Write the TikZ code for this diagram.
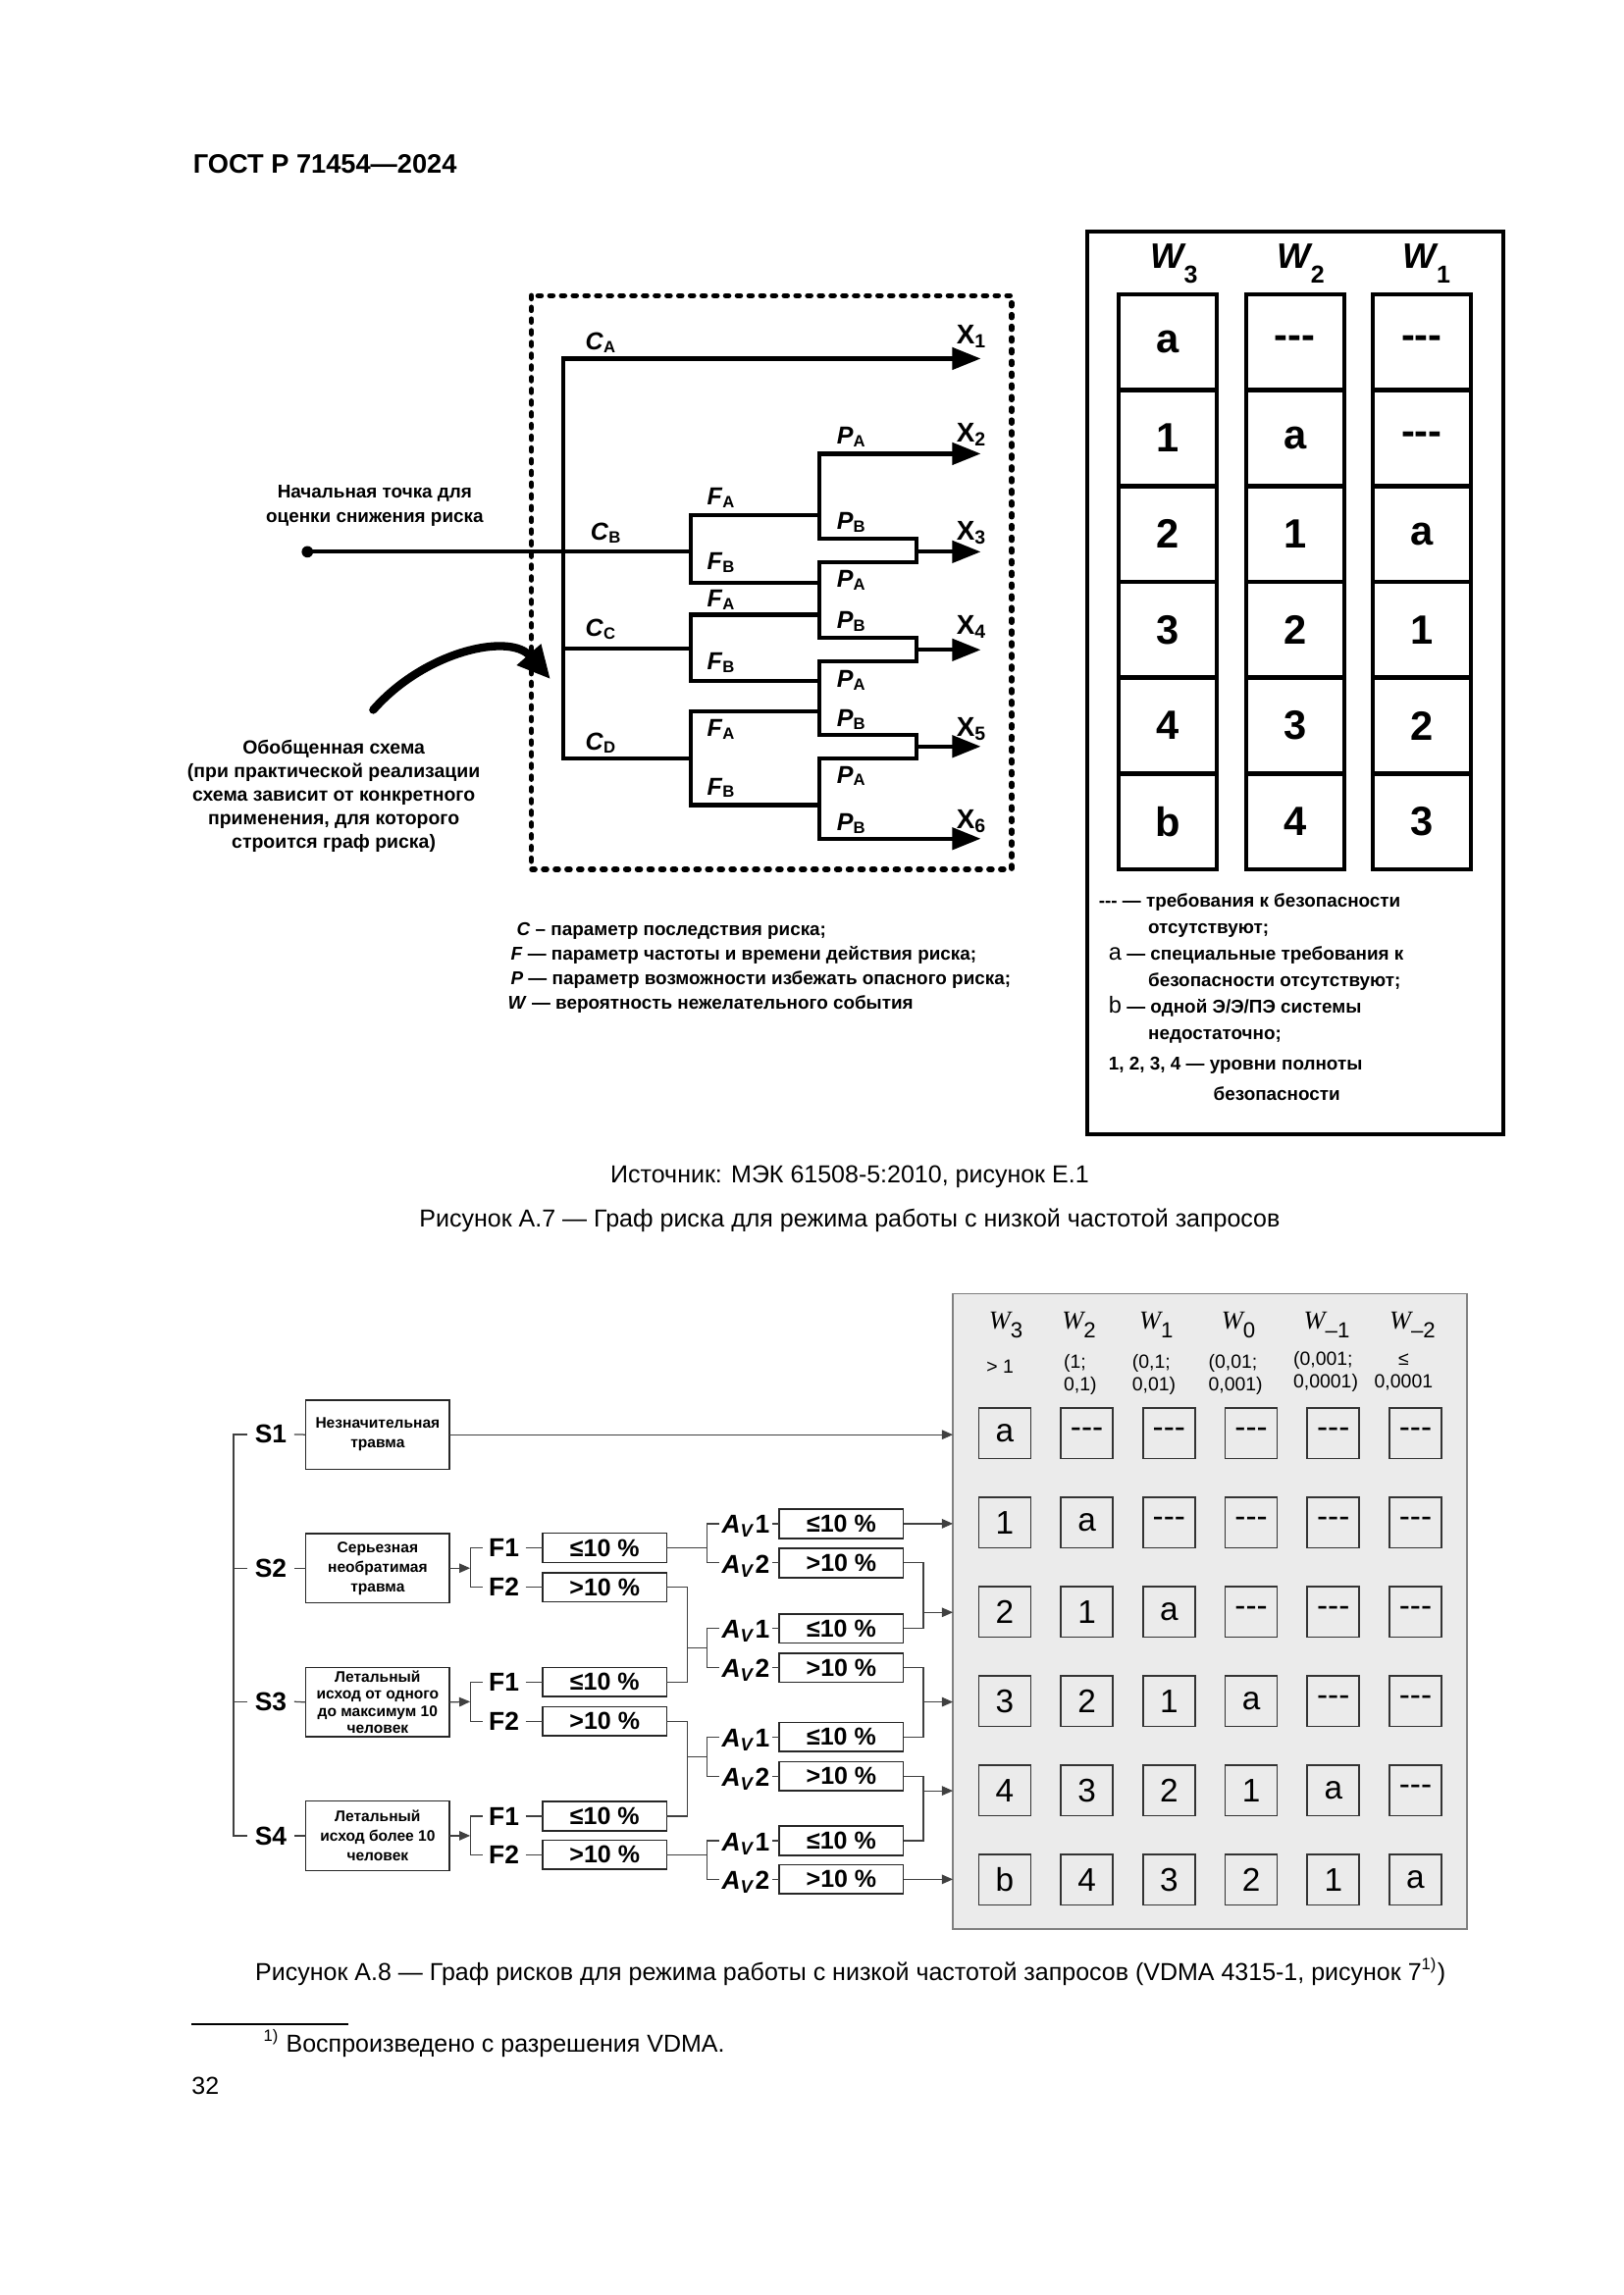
\documentclass[tikz,border=0pt]{standalone}
\usepackage{fontspec}
\setmainfont{Liberation Sans}
\newfontfamily\serifW{Liberation Serif}
\usetikzlibrary{arrows.meta}
\newcommand{\fsz}[2]{\fontsize{#1}{#2}\selectfont}
\newcommand{\dsh}{-{}-{}-}
\newcommand{\wsubA}[1]{\raisebox{-5.4pt}{\bfseries\fsz{9}{9}#1}}
\newcommand{\wsubB}[1]{\raisebox{-3.2pt}{\fsz{8}{8}#1}}
\begin{document}
\begin{tikzpicture}[x=0.537pt,y=-0.537pt,
  every node/.style={inner sep=0pt, outer sep=0pt},
  fone/.style={line width=1.5pt, line cap=rect, line join=miter},
  fonearr/.style={fone, -{Triangle[length=10.5pt,width=8pt]}},
  ftext/.style={font=\bfseries\fsz{6.8}{8.8}, align=center},
  lgd/.style={font=\bfseries\fsz{6.8}{6.8}, anchor=base west},
  lbl/.style={font=\bfseries\fsz{9}{9}, anchor=base west},
  xlbl/.style={font=\bfseries\fsz{10}{10}, anchor=base west},
  cone/.style={draw, line width=1.6pt, minimum width=36pt, minimum height=35.2pt, font=\bfseries\fsz{15}{15}},
  ctwo/.style={draw=black!80, line width=0.6pt, minimum width=19.1pt, minimum height=18.4pt, font=\fsz{12}{12}},
  ftwo/.style={line width=0.45pt, draw=black!75},
  ftwoarr/.style={ftwo, -{Triangle[length=4pt,width=3.4pt]}},
  sbox/.style={draw=black!85, line width=0.6pt, minimum width=52.8pt, minimum height=25.5pt, align=center, font=\bfseries\fsz{5.6}{7.2}},
  fbox/.style={draw=black!85, line width=0.6pt, minimum width=45.5pt, minimum height=10.7pt, font=\bfseries\fsz{9}{9}},
  slab/.style={font=\bfseries\fsz{9.5}{9.5}, inner xsep=2.8pt},
  flab/.style={font=\bfseries\fsz{9.5}{9.5}, inner xsep=2.4pt},
  alab/.style={font=\bfseries\fsz{9.5}{9.5}, inner xsep=0.9pt},
  rng/.style={font=\fsz{7}{7}, anchor=base west},
  captxt/.style={font=\fsz{9}{11}}]

\fill[white] (0,0) rectangle (1109,1568);
\useasboundingbox (0,0) rectangle (1109,1568);

% header
\node[anchor=base west, font=\bfseries\fsz{9.8}{12}] (hdr) at (132,118) {ГОСТ Р 71454—2024};

% ================= Figure A.7 =================
\coordinate (db1) at (363,202);
\coordinate (db2) at (691,594);
\draw[line width=2pt, dash pattern=on 1.1pt off 3.2pt, line cap=round] (db1) rectangle (db2);

\node[circle, fill, minimum size=4.2pt] (start) at (210,377) {};
\coordinate (cA) at (385,245);
\coordinate (cC) at (385,443);
\coordinate (cD) at (385,518);
\coordinate (x1) at (670,245);
\coordinate (fB) at (472,377);
\coordinate (fC) at (472,443);
\coordinate (fD) at (472,518);
\draw[fonearr] (cA) -- (x1);
\draw[fone] (cA) -- (cD) -- (fD);
\draw[fone] (cC) -- (fC);
\draw[fone] (start.center) -- (fB);

\coordinate (fBa) at (560,352); \coordinate (fBb) at (560,398);
\coordinate (fCa) at (560,420); \coordinate (fCb) at (560,465);
\coordinate (fDa) at (560,486); \coordinate (fDb) at (560,550);
\draw[fone] (fBa) -| (fB) |- (fBb);
\draw[fone] (fCa) -| (fC) |- (fCb);
\draw[fone] (fDa) -| (fD) |- (fDb);

\coordinate (pA1) at (560,310); \coordinate (pB1) at (560,368);
\coordinate (q1a) at (626,368); \coordinate (q1b) at (626,384);
\coordinate (pA2) at (560,384); \coordinate (pB2) at (560,436);
\coordinate (q2a) at (626,436); \coordinate (q2b) at (626,452);
\coordinate (pA3) at (560,452); \coordinate (pB3) at (560,502);
\coordinate (q3a) at (626,502); \coordinate (q3b) at (626,518);
\coordinate (pA4) at (560,518); \coordinate (pB4) at (560,573);
\draw[fone] (pA1) -- (pB1) -- (q1a) -- (q1b) -- (pA2) -- (pB2) -- (q2a) -- (q2b) -- (pA3) -- (pB3) -- (q3a) -- (q3b) -- (pA4) -- (pB4);
\coordinate (x2) at (670,310); \coordinate (x6) at (670,573);
\coordinate (m1) at (626,377); \coordinate (x3) at (670,377);
\coordinate (m2) at (626,444); \coordinate (x4) at (670,444);
\coordinate (m3) at (626,510); \coordinate (x5) at (670,510);
\draw[fonearr] (pA1) -- (x2);
\draw[fonearr] (pB4) -- (x6);
\draw[fonearr] (m1) -- (x3);
\draw[fonearr] (m2) -- (x4);
\draw[fonearr] (m3) -- (x5);

% labels C, F, P, X
\node[lbl] (lCA) at (400,239) {\textit{C}\textsubscript{A}};
\node[lbl] (lCB) at (403.5,369) {\textit{C}\textsubscript{B}};
\node[lbl] (lCC) at (400,435) {\textit{C}\textsubscript{C}};
\node[lbl] (lCD) at (400,512.5) {\textit{C}\textsubscript{D}};
\node[lbl] (lF1) at (483,345) {\textit{F}\textsubscript{A}};
\node[lbl] (lF2) at (483,389) {\textit{F}\textsubscript{B}};
\node[lbl] (lF3) at (483,414.7) {\textit{F}\textsubscript{A}};
\node[lbl] (lF4) at (483,457.6) {\textit{F}\textsubscript{B}};
\node[lbl] (lF5) at (483,503) {\textit{F}\textsubscript{A}};
\node[lbl] (lF6) at (483,543) {\textit{F}\textsubscript{B}};
\node[lbl] (lP1) at (571.8,303.4) {\textit{P}\textsubscript{A}};
\node[lbl] (lP2) at (571.8,361.6) {\textit{P}\textsubscript{B}};
\node[lbl] (lP3) at (571.8,401) {\textit{P}\textsubscript{A}};
\node[lbl] (lP4) at (571.8,429.4) {\textit{P}\textsubscript{B}};
\node[lbl] (lP5) at (571.8,469.7) {\textit{P}\textsubscript{A}};
\node[lbl] (lP6) at (571.8,496.5) {\textit{P}\textsubscript{B}};
\node[lbl] (lP7) at (571.8,535) {\textit{P}\textsubscript{A}};
\node[lbl] (lP8) at (571.8,567.5) {\textit{P}\textsubscript{B}};
\node[xlbl] (lX1) at (653.5,235) {X\textsubscript{1}};
\node[xlbl] (lX2) at (653.5,302) {X\textsubscript{2}};
\node[xlbl] (lX3) at (653.5,369) {X\textsubscript{3}};
\node[xlbl] (lX4) at (653.5,433.5) {X\textsubscript{4}};
\node[xlbl] (lX5) at (653.5,503) {X\textsubscript{5}};
\node[xlbl] (lX6) at (653.5,566) {X\textsubscript{6}};

% left texts
\node[ftext] (startlbl) at (256,345.5) {Начальная точка для\\оценки снижения риска};
\node[ftext, font=\bfseries\fsz{7}{8.7}] (genlbl) at (228,544) {Обобщенная схема\\(при практической реализации\\схема зависит от конкретного\\применения,  для которого\\строится граф риска)};
\coordinate (ctail) at (255,485);
\coordinate (chead) at (376,464);
\draw[line width=3pt, line cap=round, -{Triangle[length=12pt,width=11pt]}] (ctail) .. controls (290,445) and (348,432) .. (chead);

% legend left
\node[lgd] (lgc) at (353,639) {\textit{C} – параметр последствия риска;};
\node[lgd] (lgf) at (349,656) {\textit{F} — параметр частоты и времени действия риска;};
\node[lgd] (lgp) at (349,673) {\textit{P} — параметр возможности избежать опасного риска;};
\node[lgd] (lgw) at (347,689.5) {\textit{W} — вероятность нежелательного события};

% table right
\coordinate (tb1) at (743,158);
\coordinate (tb2) at (1027,775);
\draw[line width=1.4pt] (tb1) rectangle (tb2);
\node[anchor=base west] (w3) at (786,183.4) {{\bfseries\itshape\fsz{13}{13}W}\wsubA{3}};
\node[anchor=base west] (w2) at (872.6,183.4) {{\bfseries\itshape\fsz{13}{13}W}\wsubA{2}};
\node[anchor=base west] (w1) at (958.6,183.4) {{\bfseries\itshape\fsz{13}{13}W}\wsubA{1}};
\foreach \v [count=\i from 0] in {a,1,2,3,4,b}
  \node[cone] (ta\i) at (797.7,{233.8+65.5*\i}) {\v};
\foreach \v [count=\i from 0] in {\dsh,a,1,2,3,4}
  \node[cone] (tb\i) at (884.7,{233.8+65.5*\i}) {\v};
\foreach \v [count=\i from 0] in {\dsh,\dsh,a,1,2,3}
  \node[cone] (tc\i) at (971.3,{233.8+65.5*\i}) {\v};

% legend right
\node[lgd] (rg1) at (750.7,620) {\dsh{} — требования к безопасности};
\node[lgd] (rg2) at (784.4,638) {отсутствуют;};
\node[lgd] (rg3) at (757.5,656) {{\mdseries\fsz{8.5}{8.5}a} — специальные требования к};
\node[lgd] (rg4) at (784.4,674) {безопасности отсутствуют;};
\node[lgd] (rg5) at (757.5,692) {{\mdseries\fsz{8.5}{8.5}b} — одной Э/Э/ПЭ системы};
\node[lgd] (rg6) at (784.4,710) {недостаточно;};
\node[lgd] (rg7) at (757.5,731) {1, 2, 3, 4 — уровни полноты};
\node[lgd] (rg8) at (829,752) {безопасности};

% captions
\node[captxt, anchor=base] (src) at (580.5,808) {Источник: МЭК 61508-5:2010, рисунок Е.1};
\node[captxt, anchor=base] (cap7) at (580.5,838) {Рисунок А.7 — Граф риска для режима работы с низкой частотой запросов};

% ================= Figure A.8 =================
\node[draw=black!50, fill=black!8, line width=0.6pt, minimum width=188.5pt, minimum height=233.1pt] (panel) at (826.5,1101) {};

\node[anchor=base west] (h0) at (675.7,908.2) {{\serifW\itshape\fsz{9.5}{9.5}W}\wsubB{3}};
\node[anchor=base west] (h1) at (725.6,908.2) {{\serifW\itshape\fsz{9.5}{9.5}W}\wsubB{2}};
\node[anchor=base west] (h2) at (778.3,908.2) {{\serifW\itshape\fsz{9.5}{9.5}W}\wsubB{1}};
\node[anchor=base west] (h3) at (834.5,908.2) {{\serifW\itshape\fsz{9.5}{9.5}W}\wsubB{0}};
\node[anchor=base west] (h4) at (890.7,908.2) {{\serifW\itshape\fsz{9.5}{9.5}W}\wsubB{–1}};
\node[anchor=base west] (h5) at (949.3,908.2) {{\serifW\itshape\fsz{9.5}{9.5}W}\wsubB{–2}};

\node[rng] (r0) at (674,938.5) {> 1};
\node[rng] (r1a) at (726.7,935) {(1;};
\node[rng] (r1b) at (726.7,950) {0,1)};
\node[rng] (r2a) at (773.5,935) {(0,1;};
\node[rng] (r2b) at (773.5,950) {0,01)};
\node[rng] (r3a) at (825.6,935) {(0,01;};
\node[rng] (r3b) at (825.6,950) {0,001)};
\node[rng] (r4a) at (883.6,933) {(0,001;};
\node[rng] (r4b) at (883.6,948) {0,0001)};
\node[rng, anchor=base] (r5a) at (958.9,933) {≤};
\node[rng, anchor=base] (r5b) at (958.9,948) {0,0001};

\foreach \row [count=\r from 0] in {{a,\dsh,\dsh,\dsh,\dsh,\dsh},{1,a,\dsh,\dsh,\dsh,\dsh},{2,1,a,\dsh,\dsh,\dsh},{3,2,1,a,\dsh,\dsh},{4,3,2,1,a,\dsh},{b,4,3,2,1,a}}{
  \foreach \v [count=\c from 0] in \row {
    \node[ctwo] (g\r\c) at ({686.4+56.12*\c},{979.3+61*\r}) {\v};
  }
}

% S column
\node[slab] (S1) at (185,980) {S1};
\node[slab] (S2) at (185,1071.4) {S2};
\node[slab] (S3) at (185,1162.6) {S3};
\node[slab] (S4) at (185,1254.2) {S4};
\coordinate (trk) at (159.5,1117);
\draw[ftwo] (S1.west) -| (trk) |- (S4.west);
\draw[ftwo] (S2.west) -- (S2.west -| trk);
\draw[ftwo] (S3.west) -- (S3.west -| trk);

\node[sbox] (B1) at (258,980.2) {Незначительная\\травма};
\node[sbox] (B2) at (258,1071.4) {Серьезная\\необратимая\\травма};
\node[sbox, font=\bfseries\fsz{5.6}{6.3}] (B3) at (258,1163) {Летальный\\исход от одного\\до максимум 10\\человек};
\node[sbox] (B4) at (258,1254.2) {Летальный\\исход более 10\\человек};
\draw[ftwo] (S1.east) -- (B1.west);
\draw[ftwo] (S2.east) -- (B2.west);
\draw[ftwo] (S3.east) -- (B3.west);
\draw[ftwo] (S4.east) -- (B4.west);
\draw[ftwoarr] (B1.east) -- (B1.east -| panel.west);

% F brackets
\coordinate (fb2) at (321.2,1071.4);
\coordinate (fb3) at (321.2,1162.6);
\coordinate (fb4) at (321.2,1254.2);
\draw[ftwoarr] (B2.east) -- (fb2);
\draw[ftwoarr] (B3.east) -- (fb3);
\draw[ftwoarr] (B4.east) -- (fb4);
\node[flab] (F21) at (344.3,1057.5) {F1};
\node[flab] (F22) at (344.3,1084.4) {F2};
\node[flab] (F31) at (344.3,1149.2) {F1};
\node[flab] (F32) at (344.3,1176) {F2};
\node[flab] (F41) at (344.3,1240.8) {F1};
\node[flab] (F42) at (344.3,1267.2) {F2};
\draw[ftwo] (F21.west) -| (fb2) |- (F22.west);
\draw[ftwo] (F31.west) -| (fb3) |- (F32.west);
\draw[ftwo] (F41.west) -| (fb4) |- (F42.west);
\node[fbox] (FB21) at (413.1,1057.5) {≤10 \%};
\node[fbox] (FB22) at (413.1,1084.4) {>10 \%};
\node[fbox] (FB31) at (413.1,1149.2) {≤10 \%};
\node[fbox] (FB32) at (413.1,1176) {>10 \%};
\node[fbox] (FB41) at (413.1,1240.8) {≤10 \%};
\node[fbox] (FB42) at (413.1,1267.2) {>10 \%};
\foreach \n in {21,22,31,32,41,42} \draw[ftwo] (F\n.east) -- (FB\n.west);

% A brackets
\node[alab] (A11) at (509.5,1043) {\textit{A}\textsubscript{\textit{V}}1};
\node[alab] (A12) at (509.5,1069.8) {\textit{A}\textsubscript{\textit{V}}2};
\node[alab] (A21) at (509.5,1114.5) {\textit{A}\textsubscript{\textit{V}}1};
\node[alab] (A22) at (509.5,1141.4) {\textit{A}\textsubscript{\textit{V}}2};
\node[alab] (A31) at (509.5,1188.7) {\textit{A}\textsubscript{\textit{V}}1};
\node[alab] (A32) at (509.5,1215.6) {\textit{A}\textsubscript{\textit{V}}2};
\node[alab] (A41) at (509.5,1259.6) {\textit{A}\textsubscript{\textit{V}}1};
\node[alab] (A42) at (509.5,1286) {\textit{A}\textsubscript{\textit{V}}2};
\node[fbox] (AB11) at (574.8,1041) {≤10 \%};
\node[fbox] (AB12) at (574.8,1067.8) {>10 \%};
\node[fbox] (AB21) at (574.8,1112.5) {≤10 \%};
\node[fbox] (AB22) at (574.8,1139.4) {>10 \%};
\node[fbox] (AB31) at (574.8,1186.7) {≤10 \%};
\node[fbox] (AB32) at (574.8,1213.6) {>10 \%};
\node[fbox] (AB41) at (574.8,1257.6) {≤10 \%};
\node[fbox] (AB42) at (574.8,1284) {>10 \%};
\foreach \n in {11,12,21,22,31,32,41,42} \draw[ftwo] (A\n.east |- AB\n.west) -- (AB\n.west);

\coordinate (j1) at (483.2,1057.5);
\coordinate (j2) at (483.2,1126);
\coordinate (j3) at (483.2,1200.1);
\coordinate (j4) at (483.2,1267.2);
\draw[ftwo] (A11.west |- AB11.west) -| (j1) |- (A12.west |- AB12.west);
\draw[ftwo] (A21.west |- AB21.west) -| (j2) |- (A22.west |- AB22.west);
\draw[ftwo] (A31.west |- AB31.west) -| (j3) |- (A32.west |- AB32.west);
\draw[ftwo] (A41.west |- AB41.west) -| (j4) |- (A42.west |- AB42.west);

\draw[ftwo] (FB21.east) -- (j1);
\coordinate (v2) at (469.5,1126);
\coordinate (v3) at (469.5,1200.1);
\draw[ftwo] (FB22.east) -| (v2) |- (FB31.east);
\draw[ftwo] (v2) -- (j2);
\draw[ftwo] (FB32.east) -| (v3) |- (FB41.east);
\draw[ftwo] (v3) -- (j3);
\draw[ftwo] (FB42.east) -- (j4);

% outputs
\coordinate (mm1) at (630.8,1101.6);
\coordinate (mm2) at (630.8,1162.8);
\coordinate (mm3) at (630.8,1223.5);
\draw[ftwoarr] (AB11.east) -- (AB11.east -| panel.west);
\draw[ftwo] (AB12.east) -| (mm1) |- (AB21.east);
\draw[ftwoarr] (mm1) -- (mm1 -| panel.west);
\draw[ftwo] (AB22.east) -| (mm2) |- (AB31.east);
\draw[ftwoarr] (mm2) -- (mm2 -| panel.west);
\draw[ftwo] (AB32.east) -| (mm3) |- (AB41.east);
\draw[ftwoarr] (mm3) -- (mm3 -| panel.west);
\draw[ftwoarr] (AB42.east) -- (AB42.east -| panel.west);

% caption and footnote
\node[captxt, anchor=base] (cap8) at (581,1353) {Рисунок А.8 — Граф рисков для режима работы с низкой частотой запросов (VDMA 4315-1, рисунок 7\textsuperscript{1)})};
\coordinate (fr1) at (131,1383);
\coordinate (fr2) at (238,1383);
\draw[line width=0.8pt] (fr1) -- (fr2);
\node[captxt, anchor=base west] (fn) at (180,1402) {\textsuperscript{1)} Воспроизведено с разрешения VDMA.};
\node[captxt, anchor=base west] (pg) at (131,1431) {32};
\end{tikzpicture}
\end{document}
